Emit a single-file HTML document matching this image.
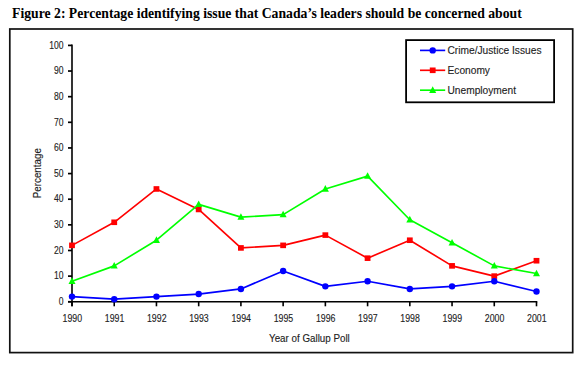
<!DOCTYPE html>
<html><head><meta charset="utf-8"><style>
html,body{margin:0;padding:0;background:#fff;width:580px;height:365px;overflow:hidden}
svg{display:block}
.t{font-family:"Liberation Sans",sans-serif;fill:#222;stroke:#222;stroke-width:0.12px}
</style></head><body>
<svg width="580" height="365" viewBox="0 0 580 365">

<text x="12.1" y="18.1" style="font-family:'Liberation Serif',serif;font-weight:bold;font-size:13.7px" fill="#000">Figure 2: Percentage identifying issue that Canada’s leaders should be concerned about</text>
<rect x="9.8" y="29.0" width="562.9" height="323.6" fill="none" stroke="#111" stroke-width="1.7"/>
<line x1="72.0" y1="44.500000000000036" x2="72.0" y2="306.3" stroke="#000" stroke-width="1.6"/>
<line x1="68" y1="301.75" x2="537.3" y2="301.75" stroke="#000" stroke-width="1.7"/>
<line x1="68" y1="301.75" x2="72.0" y2="301.75" stroke="#000" stroke-width="1.7"/>
<text class="t" x="0" y="0" text-anchor="end" transform="translate(63.6,304.95) scale(0.86,1)" font-size="10">0</text>
<line x1="68" y1="276.12" x2="72.0" y2="276.12" stroke="#000" stroke-width="1.7"/>
<text class="t" x="0" y="0" text-anchor="end" transform="translate(63.6,279.31) scale(0.86,1)" font-size="10">10</text>
<line x1="68" y1="250.48" x2="72.0" y2="250.48" stroke="#000" stroke-width="1.7"/>
<text class="t" x="0" y="0" text-anchor="end" transform="translate(63.6,253.68) scale(0.86,1)" font-size="10">20</text>
<line x1="68" y1="224.84" x2="72.0" y2="224.84" stroke="#000" stroke-width="1.7"/>
<text class="t" x="0" y="0" text-anchor="end" transform="translate(63.6,228.04) scale(0.86,1)" font-size="10">30</text>
<line x1="68" y1="199.21" x2="72.0" y2="199.21" stroke="#000" stroke-width="1.7"/>
<text class="t" x="0" y="0" text-anchor="end" transform="translate(63.6,202.41) scale(0.86,1)" font-size="10">40</text>
<line x1="68" y1="173.58" x2="72.0" y2="173.58" stroke="#000" stroke-width="1.7"/>
<text class="t" x="0" y="0" text-anchor="end" transform="translate(63.6,176.78) scale(0.86,1)" font-size="10">50</text>
<line x1="68" y1="147.94" x2="72.0" y2="147.94" stroke="#000" stroke-width="1.7"/>
<text class="t" x="0" y="0" text-anchor="end" transform="translate(63.6,151.14) scale(0.86,1)" font-size="10">60</text>
<line x1="68" y1="122.31" x2="72.0" y2="122.31" stroke="#000" stroke-width="1.7"/>
<text class="t" x="0" y="0" text-anchor="end" transform="translate(63.6,125.51) scale(0.86,1)" font-size="10">70</text>
<line x1="68" y1="96.67" x2="72.0" y2="96.67" stroke="#000" stroke-width="1.7"/>
<text class="t" x="0" y="0" text-anchor="end" transform="translate(63.6,99.87) scale(0.86,1)" font-size="10">80</text>
<line x1="68" y1="71.03" x2="72.0" y2="71.03" stroke="#000" stroke-width="1.7"/>
<text class="t" x="0" y="0" text-anchor="end" transform="translate(63.6,74.23) scale(0.86,1)" font-size="10">90</text>
<line x1="68" y1="45.40" x2="72.0" y2="45.40" stroke="#000" stroke-width="1.7"/>
<text class="t" x="0" y="0" text-anchor="end" transform="translate(63.6,48.60) scale(0.86,1)" font-size="10">100</text>
<line x1="72.00" y1="301.75" x2="72.00" y2="306.3" stroke="#000" stroke-width="1.6"/>
<text class="t" x="0" y="0" text-anchor="middle" transform="translate(72.30,321.6) scale(0.88,1)" font-size="10">1990</text>
<line x1="114.23" y1="301.75" x2="114.23" y2="306.3" stroke="#000" stroke-width="1.6"/>
<text class="t" x="0" y="0" text-anchor="middle" transform="translate(114.53,321.6) scale(0.88,1)" font-size="10">1991</text>
<line x1="156.45" y1="301.75" x2="156.45" y2="306.3" stroke="#000" stroke-width="1.6"/>
<text class="t" x="0" y="0" text-anchor="middle" transform="translate(156.75,321.6) scale(0.88,1)" font-size="10">1992</text>
<line x1="198.68" y1="301.75" x2="198.68" y2="306.3" stroke="#000" stroke-width="1.6"/>
<text class="t" x="0" y="0" text-anchor="middle" transform="translate(198.98,321.6) scale(0.88,1)" font-size="10">1993</text>
<line x1="240.91" y1="301.75" x2="240.91" y2="306.3" stroke="#000" stroke-width="1.6"/>
<text class="t" x="0" y="0" text-anchor="middle" transform="translate(241.21,321.6) scale(0.88,1)" font-size="10">1994</text>
<line x1="283.14" y1="301.75" x2="283.14" y2="306.3" stroke="#000" stroke-width="1.6"/>
<text class="t" x="0" y="0" text-anchor="middle" transform="translate(283.44,321.6) scale(0.88,1)" font-size="10">1995</text>
<line x1="325.36" y1="301.75" x2="325.36" y2="306.3" stroke="#000" stroke-width="1.6"/>
<text class="t" x="0" y="0" text-anchor="middle" transform="translate(325.66,321.6) scale(0.88,1)" font-size="10">1996</text>
<line x1="367.59" y1="301.75" x2="367.59" y2="306.3" stroke="#000" stroke-width="1.6"/>
<text class="t" x="0" y="0" text-anchor="middle" transform="translate(367.89,321.6) scale(0.88,1)" font-size="10">1997</text>
<line x1="409.82" y1="301.75" x2="409.82" y2="306.3" stroke="#000" stroke-width="1.6"/>
<text class="t" x="0" y="0" text-anchor="middle" transform="translate(410.12,321.6) scale(0.88,1)" font-size="10">1998</text>
<line x1="452.05" y1="301.75" x2="452.05" y2="306.3" stroke="#000" stroke-width="1.6"/>
<text class="t" x="0" y="0" text-anchor="middle" transform="translate(452.35,321.6) scale(0.88,1)" font-size="10">1999</text>
<line x1="494.27" y1="301.75" x2="494.27" y2="306.3" stroke="#000" stroke-width="1.6"/>
<text class="t" x="0" y="0" text-anchor="middle" transform="translate(494.57,321.6) scale(0.88,1)" font-size="10">2000</text>
<line x1="536.50" y1="301.75" x2="536.50" y2="306.3" stroke="#000" stroke-width="1.6"/>
<text class="t" x="0" y="0" text-anchor="middle" transform="translate(536.80,321.6) scale(0.88,1)" font-size="10">2001</text>
<text class="t" x="0" y="0" text-anchor="middle" transform="translate(309.4,341.9) scale(0.98,1)" font-size="10">Year of Gallup Poll</text>
<text class="t" x="0" y="0" text-anchor="middle" transform="translate(41.4,173.2) rotate(-90) scale(0.98,1)" font-size="10">Percentage</text>
<polyline points="72.00,245.35 114.23,222.28 156.45,188.96 198.68,209.46 240.91,247.92 283.14,245.35 325.36,235.10 367.59,258.17 409.82,240.23 452.05,265.86 494.27,276.12 536.50,260.73" fill="none" stroke="#ff0000" stroke-width="1.65" stroke-linejoin="round"/><rect x="69.10" y="242.55" width="5.8" height="5.6" fill="#ff0000"/><rect x="111.33" y="219.48" width="5.8" height="5.6" fill="#ff0000"/><rect x="153.55" y="186.16" width="5.8" height="5.6" fill="#ff0000"/><rect x="195.78" y="206.66" width="5.8" height="5.6" fill="#ff0000"/><rect x="238.01" y="245.12" width="5.8" height="5.6" fill="#ff0000"/><rect x="280.24" y="242.55" width="5.8" height="5.6" fill="#ff0000"/><rect x="322.46" y="232.30" width="5.8" height="5.6" fill="#ff0000"/><rect x="364.69" y="255.37" width="5.8" height="5.6" fill="#ff0000"/><rect x="406.92" y="237.43" width="5.8" height="5.6" fill="#ff0000"/><rect x="449.15" y="263.06" width="5.8" height="5.6" fill="#ff0000"/><rect x="491.37" y="273.31" width="5.8" height="5.6" fill="#ff0000"/><rect x="533.60" y="257.93" width="5.8" height="5.6" fill="#ff0000"/>
<polyline points="72.00,281.24 114.23,265.86 156.45,240.23 198.68,204.34 240.91,217.15 283.14,214.59 325.36,188.96 367.59,176.14 409.82,219.72 452.05,242.79 494.27,265.86 536.50,273.55" fill="none" stroke="#00ff00" stroke-width="1.65" stroke-linejoin="round"/><polygon points="72.00,277.34 75.50,283.94 68.50,283.94" fill="#00ff00"/><polygon points="114.23,261.96 117.73,268.56 110.73,268.56" fill="#00ff00"/><polygon points="156.45,236.33 159.95,242.93 152.95,242.93" fill="#00ff00"/><polygon points="198.68,200.44 202.18,207.04 195.18,207.04" fill="#00ff00"/><polygon points="240.91,213.25 244.41,219.85 237.41,219.85" fill="#00ff00"/><polygon points="283.14,210.69 286.64,217.29 279.64,217.29" fill="#00ff00"/><polygon points="325.36,185.06 328.86,191.66 321.86,191.66" fill="#00ff00"/><polygon points="367.59,172.24 371.09,178.84 364.09,178.84" fill="#00ff00"/><polygon points="409.82,215.82 413.32,222.42 406.32,222.42" fill="#00ff00"/><polygon points="452.05,238.89 455.55,245.49 448.55,245.49" fill="#00ff00"/><polygon points="494.27,261.96 497.77,268.56 490.77,268.56" fill="#00ff00"/><polygon points="536.50,269.65 540.00,276.25 533.00,276.25" fill="#00ff00"/>
<polyline points="72.00,296.62 114.23,299.19 156.45,296.62 198.68,294.06 240.91,288.93 283.14,270.99 325.36,286.37 367.59,281.24 409.82,288.93 452.05,286.37 494.27,281.24 536.50,291.50" fill="none" stroke="#0000ff" stroke-width="1.65" stroke-linejoin="round"/><circle cx="72.00" cy="296.62" r="3.2" fill="#0000ff"/><circle cx="114.23" cy="299.19" r="3.2" fill="#0000ff"/><circle cx="156.45" cy="296.62" r="3.2" fill="#0000ff"/><circle cx="198.68" cy="294.06" r="3.2" fill="#0000ff"/><circle cx="240.91" cy="288.93" r="3.2" fill="#0000ff"/><circle cx="283.14" cy="270.99" r="3.2" fill="#0000ff"/><circle cx="325.36" cy="286.37" r="3.2" fill="#0000ff"/><circle cx="367.59" cy="281.24" r="3.2" fill="#0000ff"/><circle cx="409.82" cy="288.93" r="3.2" fill="#0000ff"/><circle cx="452.05" cy="286.37" r="3.2" fill="#0000ff"/><circle cx="494.27" cy="281.24" r="3.2" fill="#0000ff"/><circle cx="536.50" cy="291.50" r="3.2" fill="#0000ff"/>
<rect x="406.1" y="40.1" width="148.0" height="62.2" fill="#fff" stroke="#000" stroke-width="1.8"/>
<line x1="420" y1="50.4" x2="445.2" y2="50.4" stroke="#0000ff" stroke-width="1.65"/>
<circle cx="432.70" cy="50.40" r="3.2" fill="#0000ff"/>
<text class="t" x="447.5" y="54.40" font-size="10.2">Crime/Justice Issues</text>
<line x1="420" y1="70.3" x2="445.2" y2="70.3" stroke="#ff0000" stroke-width="1.65"/>
<rect x="429.80" y="67.50" width="5.8" height="5.6" fill="#ff0000"/>
<text class="t" x="447.5" y="74.30" font-size="10.2">Economy</text>
<line x1="420" y1="90.2" x2="445.2" y2="90.2" stroke="#00ff00" stroke-width="1.65"/>
<polygon points="432.70,86.30 436.20,92.90 429.20,92.90" fill="#00ff00"/>
<text class="t" x="447.5" y="94.20" font-size="10.2">Unemployment</text>
</svg></body></html>
